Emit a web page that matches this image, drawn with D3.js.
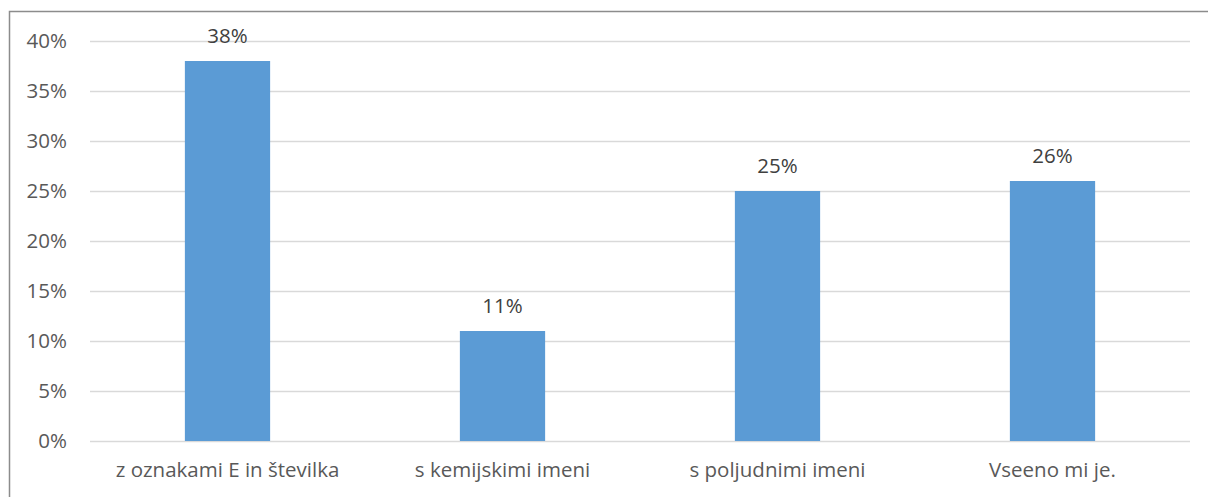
<!DOCTYPE html>
<html>
<head>
<meta charset="utf-8">
<script src="https://cdn.jsdelivr.net/npm/d3@7"></script>
<style>
  html, body { margin: 0; padding: 0; background: #fff; }
  svg { display: block; }
</style>
</head>
<body>
<script>
// Survey answers: preferred way of labelling additives
const categories = ["z oznakami E in številka", "s kemijskimi imeni", "s poljudnimi imeni", "Vseeno mi je."];
const values = [38, 11, 25, 26];
const yTicks = [0, 5, 10, 15, 20, 25, 30, 35, 40];

const W = 1208, H = 497;
const margin = { left: 90, right: 18, top: 41, bottom: 56 };
const font = "'Open Sans', 'Noto Sans', sans-serif";
const fontSize = 20.5;

const svg = d3.select("body").append("svg")
  .attr("width", W).attr("height", H);

// frame of the chart area
svg.append("rect")
  .attr("x", 9.5).attr("y", 11.5)
  .attr("width", W + 10).attr("height", H + 10)
  .attr("fill", "#fff")
  .attr("stroke", "#8c8c8c")
  .attr("stroke-width", 1.5);

const x = d3.scaleBand()
  .domain(categories)
  .range([margin.left, W - margin.right])
  .paddingInner(0.69)
  .paddingOuter(0.345);

const y = d3.scaleLinear()
  .domain([0, 40])
  .range([H - margin.bottom, margin.top]);

// horizontal gridlines
svg.append("g")
  .selectAll("line")
  .data(yTicks)
  .join("line")
  .attr("x1", margin.left)
  .attr("x2", W - margin.right)
  .attr("y1", d => Math.round(y(d)) + 0.5)
  .attr("y2", d => Math.round(y(d)) + 0.5)
  .attr("stroke", "#d9d9d9")
  .attr("stroke-width", 1.5);

// y axis labels
const yAxis = d3.axisLeft(y)
  .tickValues(yTicks)
  .tickFormat(d => d + "%")
  .tickSize(0)
  .tickPadding(23);

svg.append("g")
  .attr("transform", `translate(${margin.left},0)`)
  .call(yAxis)
  .call(g => g.select(".domain").remove())
  .call(g => g.selectAll("text")
    .attr("font-family", font)
    .attr("font-size", fontSize)
    .attr("fill", "#595959"));

// bars
svg.append("g")
  .selectAll("rect")
  .data(values)
  .join("rect")
  .attr("x", (d, i) => x(categories[i]))
  .attr("y", d => y(d))
  .attr("width", x.bandwidth())
  .attr("height", d => y(0) - y(d))
  .attr("fill", "#5b9bd5");

// value labels above bars
svg.append("g")
  .selectAll("text")
  .data(values)
  .join("text")
  .attr("x", (d, i) => x(categories[i]) + x.bandwidth() / 2)
  .attr("y", d => y(d) - 18)
  .attr("text-anchor", "middle")
  .attr("font-family", font)
  .attr("font-size", fontSize)
  .attr("fill", "#404040")
  .text(d => d + "%");

// category labels
const xAxis = d3.axisBottom(x).tickSize(0).tickPadding(21);
svg.append("g")
  .attr("transform", `translate(0,${y(0)})`)
  .call(xAxis)
  .call(g => g.select(".domain").remove())
  .call(g => g.selectAll("text")
    .attr("font-family", font)
    .attr("font-size", fontSize)
    .attr("fill", "#595959"));
</script>
</body>
</html>
